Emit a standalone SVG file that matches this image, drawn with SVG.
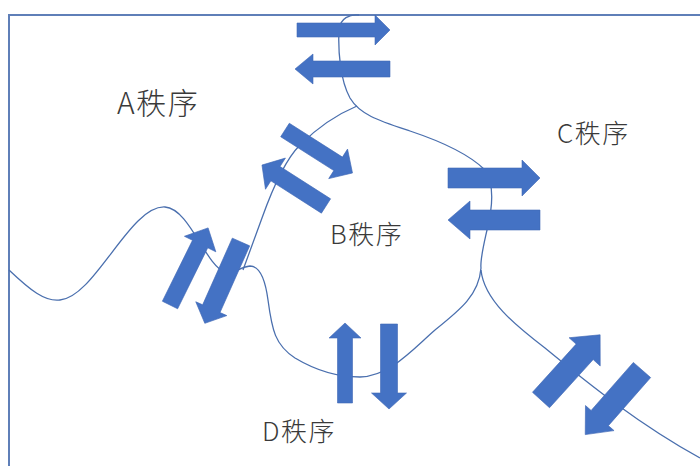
<svg xmlns="http://www.w3.org/2000/svg" width="700" height="466" viewBox="0 0 700 466">
<style>
.frame{fill:none;stroke:#5f7fb8;stroke-width:2}
.ln{fill:none;stroke:#4a6fae;stroke-width:1.3}
.ar{fill:#4472c4;stroke:#3f68b5;stroke-width:0.6}
.lb{font-family:"Noto Sans CJK SC","Noto Sans",sans-serif;font-weight:300;fill:#3a3a3a;letter-spacing:1.5px}
</style>
<rect width="700" height="466" fill="#ffffff"/>
<path class="frame" d="M9,466 V15 H700"/>
<g id="connectors">
<path class="ln" d="M9,270 C30,290 45,302 60,300 C95,297 130,205 165,207 C190,209 205,265 225,272 C235,275 238,267 250,266 C262,266 266,285 268,300 C272,330 275,345 295,358 C315,370 335,377 360,377 C390,376 412,350 435,330 C460,310 479,295 481,268"/>
<path class="ln" d="M243,270 L262,218 C272,190 285,160 300,145 C318,127 338,114 357,106"/>
<path class="ln" d="M359,15 C350,14 340,18 339,30 C338,50 340,80 350,98 C360,115 380,121 410,131 C440,141 470,155 485,170 C495,185 492,210 487,230 C483,248 480,260 481,268"/>
<path class="ln" d="M481,270 C484,300 515,325 545,348 C590,385 640,425 700,458"/>
</g>
<g id="arrows-top">
<path class="ar" transform="translate(297,30)" d="M0,-7 H78 V-15 L93,0 L78,15 V7 H0 Z"/>
<path class="ar" transform="translate(390,69) rotate(180)" d="M0,-8 H77 V-15 L95,0 L77,15 V8 H0 Z"/>
</g>
<g id="arrows-c">
<path class="ar" transform="translate(448,178)" d="M0,-10 H74 V-18 L92,0 L74,18 V10 H0 Z"/>
<path class="ar" transform="translate(540,220) rotate(180)" d="M0,-10 H70 V-19 L92,0 L70,19 V10 H0 Z"/>
</g>
<g id="arrows-d">
<path class="ar" transform="translate(345,403) rotate(-90)" d="M0,-7.5 H65 V-16 L80,0 L65,16 V7.5 H0 Z"/>
<path class="ar" transform="translate(389,324) rotate(90)" d="M0,-8.5 H69 V-17.5 L85,0 L69,17.5 V8.5 H0 Z"/>
</g>
<g id="arrows-ab">
<path class="ar" transform="translate(285,130) rotate(32.5)" d="M0,-8 H63 V-17.5 L80,0 L63,17.5 V8 H0 Z"/>
<path class="ar" transform="translate(326,206) rotate(212.6)" d="M0,-8.5 H60 V-18.5 L76,0 L60,18.5 V8.5 H0 Z"/>
</g>
<g id="arrows-a">
<path class="ar" transform="translate(170,305) rotate(-63.7)" d="M0,-8.5 H68 V-17.5 L86,0 L68,17.5 V8.5 H0 Z"/>
<path class="ar" transform="translate(241,242) rotate(114)" d="M0,-9.5 H73 V-17 L89,0 L73,17 V9.5 H0 Z"/>
</g>
<g id="arrows-cd">
<path class="ar" transform="translate(541,400) rotate(-47.8)" d="M0,-11.5 H65 V-21 L88,0 L65,21 V11.5 H0 Z"/>
<path class="ar" transform="translate(642,370) rotate(131.3)" d="M0,-11.5 H64 V-19 L86,0 L64,19 V11.5 H0 Z"/>
</g>
<g id="label-a"><text class="lb" x="117" y="114" font-size="30">A秩序</text></g>
<g id="label-b"><text class="lb" x="330" y="244" font-size="26">B秩序</text></g>
<g id="label-c"><text class="lb" x="557" y="143" font-size="26">C秩序</text></g>
<g id="label-d"><text class="lb" x="262" y="441" font-size="26">D秩序</text></g>
</svg>
